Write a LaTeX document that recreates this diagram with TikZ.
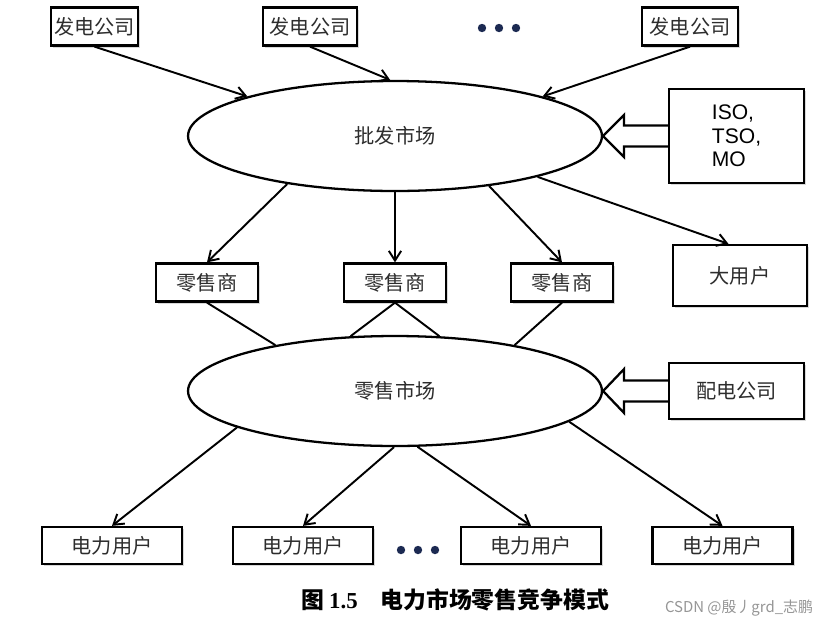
\documentclass[tikz,border=0pt]{standalone}
\usepackage{fontspec}
\setmainfont{Noto Sans CJK SC}
\newfontfamily\latinsans{Liberation Sans}
\newfontfamily\latinserif{Liberation Serif}
\usetikzlibrary{arrows.meta,positioning,calc,shadows,shapes.geometric}
\definecolor{labelgray}{RGB}{45,45,45}
\definecolor{dotnavy}{RGB}{28,42,82}
\definecolor{markgray}{RGB}{150,150,150}
\tikzset{
  entity/.style={draw, line width=1.3pt, fill=white, font=\fontsize{11.5}{13}\selectfont,
                 text=labelgray, minimum width=#1, minimum height=0.76cm, inner sep=0pt,
                 drop shadow={shadow xshift=1.2pt, shadow yshift=-1.2pt, opacity=0.3}},
  market/.style={draw, ellipse, line width=1.3pt, fill=white, font=\fontsize{11.5}{13}\selectfont,
                 text=labelgray, minimum width=8.28cm, minimum height=2.2cm, inner sep=0pt},
  flow/.style={-{Straight Barb[length=5.5pt,width=7pt]}, line width=1.1pt},
  link/.style={line width=1.1pt},
  hollow/.style={line width=1.3pt, line join=miter},
}

\begin{document}
\begin{tikzpicture}[x=0.02cm, y=-0.02cm]

\fill[white] (0,0) rectangle (822,623);
\useasboundingbox (0,0) rectangle (822,623);

% Generators
\node[entity=1.74cm] (gen1) at (94.5,26.5) {发电公司};
\node[entity=1.88cm] (gen2) at (310,26.5) {发电公司};
\node[entity=1.92cm] (gen3) at (690,26.5) {发电公司};
\foreach \px in {482,499,516}
  \fill[dotnavy] (\px,28) circle (4.2);

% Wholesale market
\node[market] (whole) at (395,136) {批发市场};
\node[entity=2.7cm, minimum height=1.88cm, align=left,
      font=\latinsans\fontsize{12}{13.5}\selectfont, text=black] (iso) at (736.5,136)
      {ISO,\\TSO,\\MO};

% Retailers and big consumer
\node[entity=2.04cm] (ret1) at (207,282.5) {零售商};
\node[entity=2.04cm] (ret2) at (395,282.5) {零售商};
\node[entity=2.04cm] (ret3) at (562,282.5) {零售商};
\node[entity=2.68cm, minimum height=1.22cm] (big) at (740,275.5) {大用户};

% Retail market
\node[market] (retail) at (395,391) {零售市场};
\node[entity=2.7cm, minimum height=1.12cm] (dist) at (736.5,391) {配电公司};

% End users
\node[entity=2.8cm, minimum height=0.74cm] (user1) at (112,545.5) {电力用户};
\node[entity=2.8cm, minimum height=0.74cm] (user2) at (303,545.5) {电力用户};
\node[entity=2.8cm, minimum height=0.74cm] (user3) at (531,545.5) {电力用户};
\node[entity=2.8cm, minimum height=0.74cm] (user4) at (722.5,545.5) {电力用户};
\foreach \px in {401,418,435}
  \fill[dotnavy] (\px,550) circle (4.2);

% Connections
\draw[flow] (gen1.south) -- (whole.165);
\draw[flow] (gen2.south) -- (whole.95);
\draw[flow] (gen3.south) -- (whole.15);
\draw[flow] (whole.204) -- (ret1.north);
\draw[flow] (whole.south) -- (ret2.north);
\draw[flow] (whole.332) -- (ret3.north);
\draw[flow] (whole.344) -- (big.110);
\draw[link] (ret1.south) -- (retail.159.5);
\draw[link] (ret2.south) -- (retail.129);
\draw[link] (ret2.south) -- (retail.51);
\draw[link] (ret3.south) -- (retail.21.5);
\draw[flow] (retail.193) -- (user1.north);
\draw[flow] (retail.269) -- (user2.north);
\draw[flow] (retail.292) -- (user3.north);
\draw[flow] (retail.350) -- (user4.north);

% Hollow arrows
\draw[hollow] ($(iso.west)+(0,-10.5)$) -- ($(whole.east)+(21,-10.5)$)
  -- ($(whole.east)+(21,-21)$) -- (whole.east) -- ($(whole.east)+(21,21)$)
  -- ($(whole.east)+(21,10.5)$) -- ($(iso.west)+(0,10.5)$);
\draw[hollow] ($(dist.west)+(0,-10.5)$) -- ($(retail.east)+(21,-10.5)$)
  -- ($(retail.east)+(21,-22)$) -- (retail.east) -- ($(retail.east)+(21,22)$)
  -- ($(retail.east)+(21,10.5)$) -- ($(dist.west)+(0,10.5)$);

% Caption
\node[font=\fontsize{13}{15}\selectfont\bfseries] (caption) at (455,600)
  {图 {\latinserif 1.5}\quad 电力市场零售竞争模式};
\node[font=\fontsize{8.5}{10}\selectfont, text=markgray] (mark) at (739,608)
  {CSDN @殷丿grd\_志鹏};

\end{tikzpicture}
\end{document}
